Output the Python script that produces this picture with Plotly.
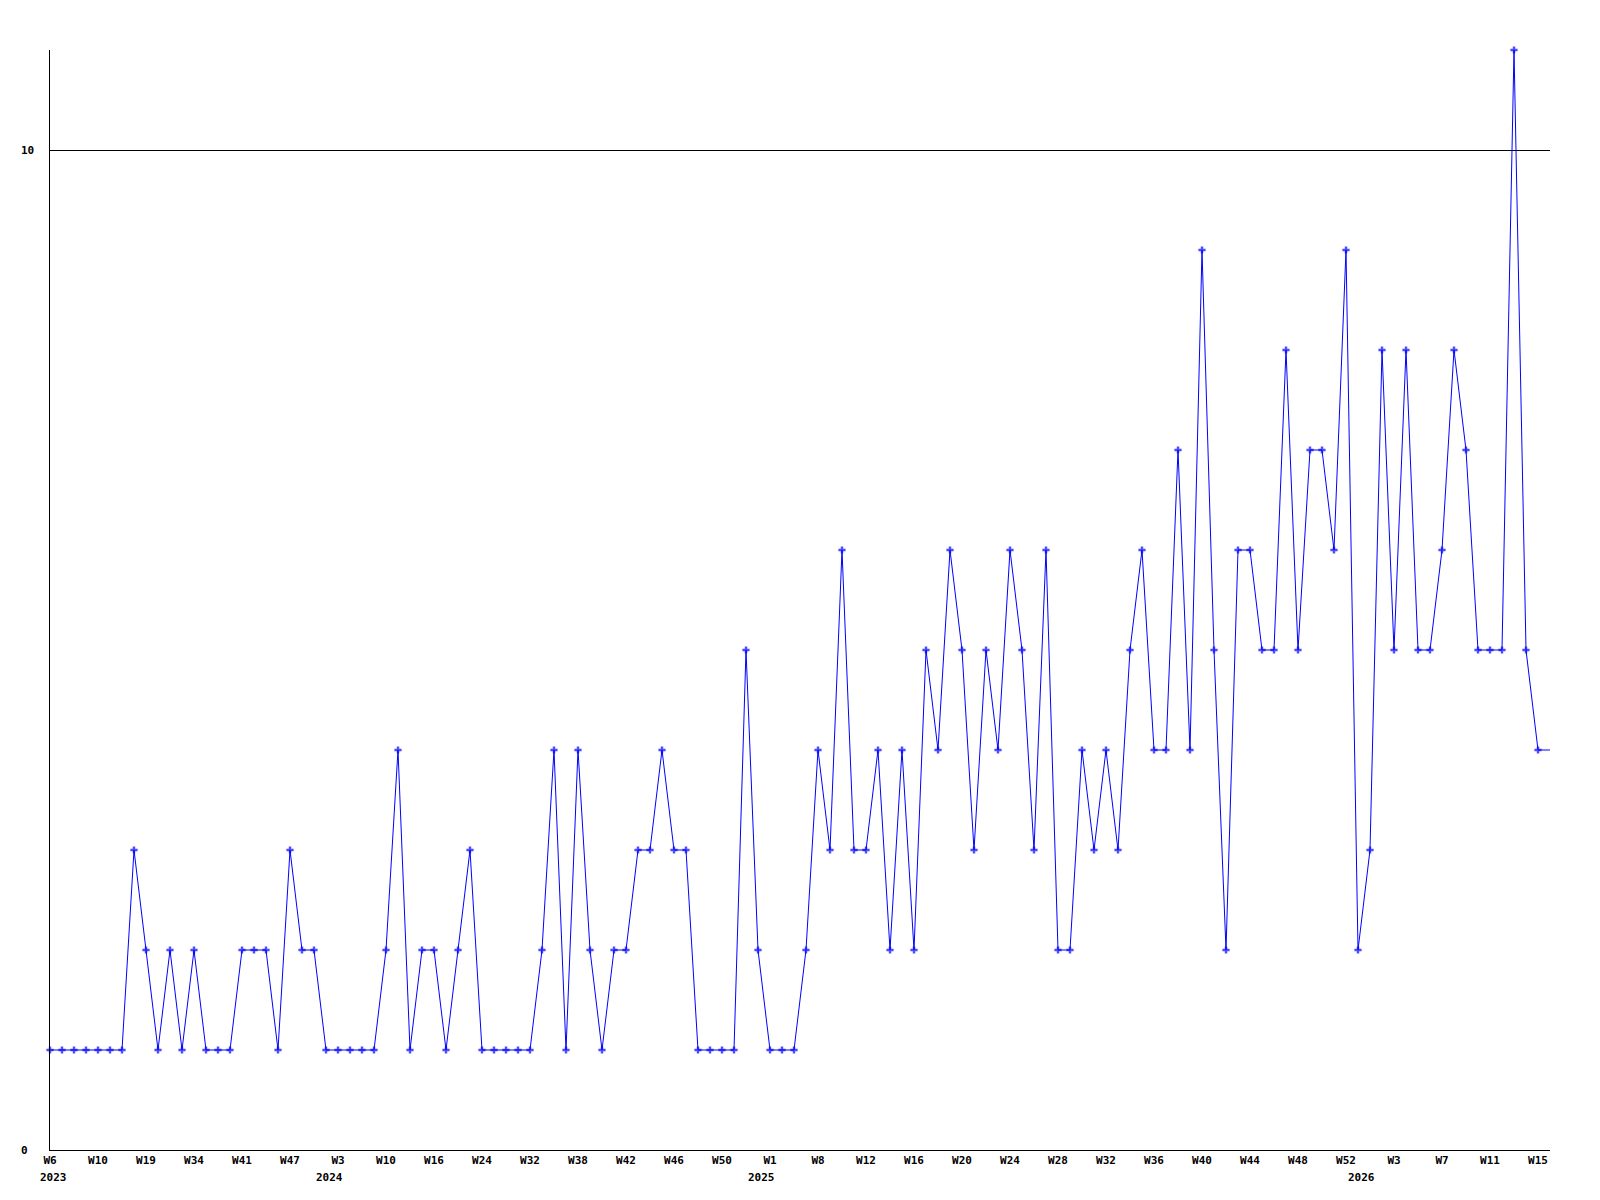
import plotly.graph_objects as go

# Weekly counts (one point per week with data); the final value is the current, unmarked week
values = [1, 1, 1, 1, 1, 1, 1, 3, 2, 1,
          2, 1, 2, 1, 1, 1, 2, 2, 2, 1,
          3, 2, 2, 1, 1, 1, 1, 1, 2, 4,
          1, 2, 2, 1, 2, 3, 1, 1, 1, 1,
          1, 2, 4, 1, 4, 2, 1, 2, 2, 3,
          3, 4, 3, 3, 1, 1, 1, 1, 5, 2,
          1, 1, 1, 2, 4, 3, 6, 3, 3, 4,
          2, 4, 2, 5, 4, 6, 5, 3, 5, 4,
          6, 5, 3, 6, 2, 2, 4, 3, 4, 3,
          5, 6, 4, 4, 7, 4, 9, 5, 2, 6,
          6, 5, 5, 8, 5, 7, 7, 6, 9, 2,
          3, 8, 5, 8, 5, 5, 6, 8, 7, 5,
          5, 5, 11, 5, 4]
current_value = 4

week_labels = ["W6", "W10", "W19", "W34", "W41", "W47", "W3", "W10", "W16", "W24",
               "W32", "W38", "W42", "W46", "W50", "W1", "W8", "W12", "W16", "W20",
               "W24", "W28", "W32", "W36", "W40", "W44", "W48", "W52", "W3", "W7",
               "W11", "W15"]
label_every = 4

year_labels = ["2023", "2024", "2025", "2026"]
year_first_index = [0, 23, 59, 109]

y_ticks = [0, 10]

n = len(values)
xs = list(range(n + 1))
ys = values + [current_value]
sizes = [6] * n + [0]

FONT = dict(family="DejaVu Sans Mono", size=11, color="black", weight="bold")

fig = go.Figure()
fig.add_trace(go.Scatter(
    x=xs, y=ys, mode="lines+markers",
    line=dict(color="#0000FF", width=1),
    marker=dict(symbol="cross", size=sizes, color="#0000FF", line=dict(width=0)),
    cliponaxis=False, showlegend=False, hoverinfo="skip"))

tickvals = [i * label_every for i in range(len(week_labels))]

annotations = []
for t in y_ticks:
    annotations.append(dict(x=-0.02, xref="paper", y=t, yref="y", text=str(t),
                            showarrow=False, xanchor="left", yanchor="middle",
                            borderpad=0, font=FONT))
for lab, idx in zip(year_labels, year_first_index):
    annotations.append(dict(x=idx, xref="x", y=0, yref="paper", text=lab,
                            showarrow=False, xanchor="center", yanchor="middle",
                            xshift=3, yshift=-27, borderpad=0, font=FONT))

# page body has an 8px margin, so the figure is sized 8px smaller
fig.update_layout(
    width=1592, height=1192,
    margin=dict(l=42, r=50, t=42, b=50),
    paper_bgcolor="white", plot_bgcolor="white",
    font=FONT,
    annotations=annotations,
    xaxis=dict(range=[0, n], tickmode="array", tickvals=tickvals, ticktext=week_labels,
               tickangle=0, showgrid=False, zeroline=False, showline=True,
               linecolor="black", linewidth=1, ticks="", tickfont=FONT),
    yaxis=dict(range=[0, 11], tickmode="array", tickvals=y_ticks, showticklabels=False,
               showgrid=True, gridcolor="black", gridwidth=1, zeroline=False,
               showline=True, linecolor="black", linewidth=1, ticks=""),
)

fig.write_html("out.html", config={"displayModeBar": False})
